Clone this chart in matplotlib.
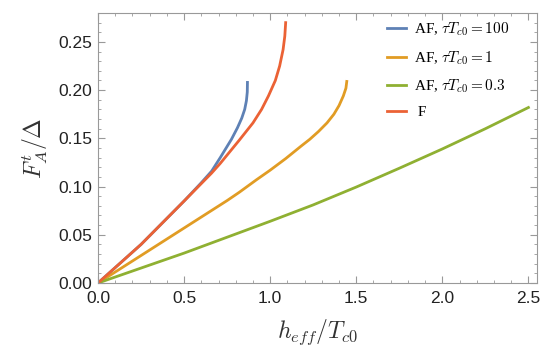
import numpy as np
import matplotlib.pyplot as plt
from matplotlib.ticker import MultipleLocator

plt.rcParams['mathtext.fontset'] = 'cm'
plt.rcParams['font.family'] = 'Liberation Sans'

# datos
h_af100 = [0, 0.25, 0.5, 0.6, 0.66, 0.71, 0.775, 0.81, 0.835, 0.852, 0.862, 0.867, 0.868]
f_af100 = [0, 0.040, 0.085, 0.104, 0.116, 0.130, 0.149, 0.161, 0.171, 0.180, 0.189, 0.198, 0.208]

h_af1 = [0, 0.25, 0.5, 0.75, 0.82, 0.92, 1.0, 1.09, 1.18, 1.23, 1.28, 1.33, 1.37, 1.40, 1.425, 1.44, 1.445]
f_af1 = [0, 0.0285, 0.057, 0.0855, 0.094, 0.107, 0.117, 0.129, 0.142, 0.149, 0.157, 0.166, 0.175, 0.184, 0.194, 0.202, 0.209]

h_af03 = [0, 0.25, 0.5, 0.75, 1.0, 1.25, 1.5, 1.75, 2.0, 2.25, 2.5]
f_af03 = [0, 0.0155, 0.031, 0.0475, 0.064, 0.081, 0.0995, 0.119, 0.139, 0.160, 0.182]

h_f = [0, 0.25, 0.5, 0.66, 0.71, 0.82, 0.90, 0.95, 0.99, 1.03, 1.055, 1.075, 1.085, 1.09]
f_f = [0, 0.040, 0.085, 0.114, 0.124, 0.148, 0.166, 0.180, 0.194, 0.210, 0.225, 0.242, 0.256, 0.270]

fig = plt.figure(figsize=(5.55, 3.59), dpi=100)
ax = fig.add_axes([0.1766, 0.2117, 0.791, 0.7521])

ax.plot(h_af100, f_af100, color='#5E81B5', lw=2, label=r'AF, $\tau T_{c0} = 100$')
ax.plot(h_af1, f_af1, color='#E19C24', lw=2, label=r'AF, $\tau T_{c0} = 1$')
ax.plot(h_af03, f_af03, color='#8FB032', lw=2, label=r'AF, $\tau T_{c0} = 0.3$')
ax.plot(h_f, f_f, color='#EB6235', lw=2, label=r' F')

ax.set_xlim(0, 2.55)
ax.set_ylim(0, 0.28)
ax.xaxis.set_major_locator(MultipleLocator(0.5))
ax.xaxis.set_minor_locator(MultipleLocator(0.1))
ax.yaxis.set_major_locator(MultipleLocator(0.05))
ax.yaxis.set_minor_locator(MultipleLocator(0.01))
ax.xaxis.set_major_formatter(plt.FormatStrFormatter('%.1f'))
ax.yaxis.set_major_formatter(plt.FormatStrFormatter('%.2f'))

for s in ax.spines.values():
    s.set_color('#999999')
ax.tick_params(which='both', direction='in', top=True, right=True, color='#999999',
               labelsize=12.5, labelcolor='#222222')
ax.tick_params(which='major', length=5, width=0.8)
ax.tick_params(which='minor', length=2.5, width=0.6)
ax.tick_params(axis='x', pad=6)
ax.tick_params(axis='y', pad=4)

ax.set_xlabel(r'$h_{eff}/T_{c0}$', fontsize=17, color='#333333', labelpad=8)
ax.set_ylabel(r'$F_A^t/\Delta$', fontsize=17, color='#333333', labelpad=6)

leg = ax.legend(loc='upper right', bbox_to_anchor=(0.955, 1.0), frameon=False,
                handlelength=1.25, handletextpad=0.55, labelspacing=0.7, borderaxespad=0.1,
                prop={'family': 'Liberation Serif', 'size': 11})

fig.savefig('out.png', dpi=100)
